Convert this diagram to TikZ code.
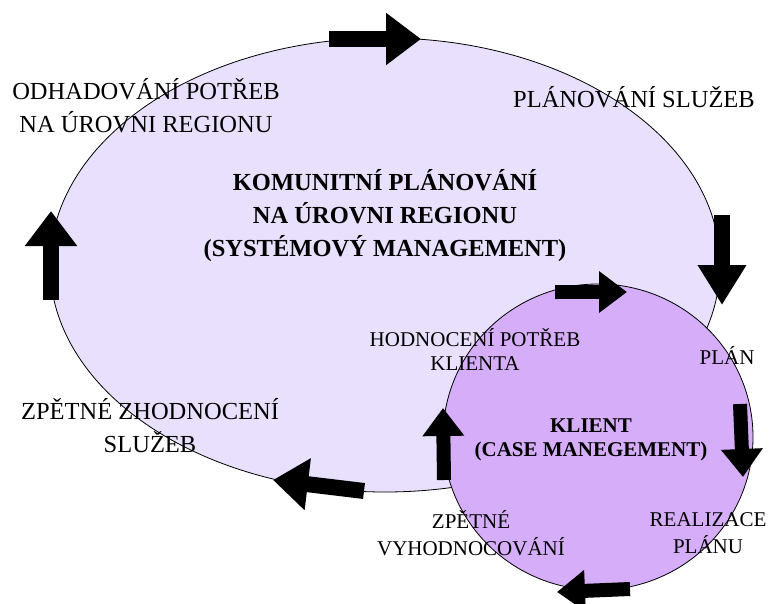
\documentclass[tikz,border=0pt]{standalone}
\usepackage{fontspec}
\setmainfont{Liberation Serif}
\definecolor{regionfill}{HTML}{E8E0FC}
\definecolor{clientfill}{HTML}{D5ADF8}
\usepackage{tikz}
\usetikzlibrary{arrows.meta}

\begin{document}
\begin{tikzpicture}[
  x=1pt, y=-1pt,
  every node/.style={inner sep=0pt, align=center},
  biglabel/.style={font=\fontsize{24.5}{33}\selectfont},
  smalllabel/.style={font=\fontsize{21}{24}\selectfont},
  bigarrow/.style={line width=16pt, -{Triangle[length=35pt, width=50pt]}},
  smallarrow/.style={line width=14pt, -{Triangle[length=28pt, width=40pt]}},
]
  \useasboundingbox (0,0) rectangle (770,604);

  % Cycles
  \draw[fill=regionfill, line width=0.8pt] (385,265) ellipse [x radius=335, y radius=227];
  \draw[fill=clientfill, line width=0.8pt] (598,437) ellipse [x radius=155, y radius=153];

  % Outer cycle arrows
  \draw[bigarrow] (329,39) -- (421,39);
  \draw[bigarrow, -{Triangle[length=40pt, width=46pt]}] (722,215) -- (722,305);
  \draw[bigarrow] (364,491) -- (273,480);
  \draw[bigarrow] (51,300) -- (51,211);

  % Inner cycle arrows
  \draw[smallarrow] (555,292) -- (627,292);
  \draw[smallarrow] (740,404) -- (743,477);
  \draw[smallarrow] (630,589) -- (557,592);
  \draw[smallarrow] (444,480) -- (443,408);

  % Region labels
  \node[biglabel] (odhad) at (146,106) {ODHADOVÁNÍ POTŘEB\\NA ÚROVNI REGIONU};
  \node[biglabel] (plansluzeb) at (634,97) {PLÁNOVÁNÍ SLUŽEB};
  \node[biglabel, font=\fontsize{24.5}{33}\selectfont\bfseries] (komunitni) at (385,216)
    {KOMUNITNÍ PLÁNOVÁNÍ\\NA ÚROVNI REGIONU\\(SYSTÉMOVÝ MANAGEMENT)};
  \node[biglabel] (zhodnoceni) at (150,426) {ZPĚTNÉ ZHODNOCENÍ\\SLUŽEB};

  % Client labels
  \node[smalllabel] (hodnoceni) at (475,349) {HODNOCENÍ POTŘEB\\KLIENTA};
  \node[smalllabel] (plan) at (727,355) {PLÁN};
  \node[smalllabel, font=\fontsize{21}{24}\selectfont\bfseries] (klient) at (591,440)
    {KLIENT\\(CASE MANEGEMENT)};
  \node[smalllabel, font=\fontsize{21}{27}\selectfont] (vyhodnocovani) at (471,533)
    {ZPĚTNÉ\\VYHODNOCOVÁNÍ};
  \node[smalllabel, font=\fontsize{21}{27}\selectfont] (realizace) at (708,533)
    {REALIZACE\\PLÁNU};
\end{tikzpicture}
\end{document}
